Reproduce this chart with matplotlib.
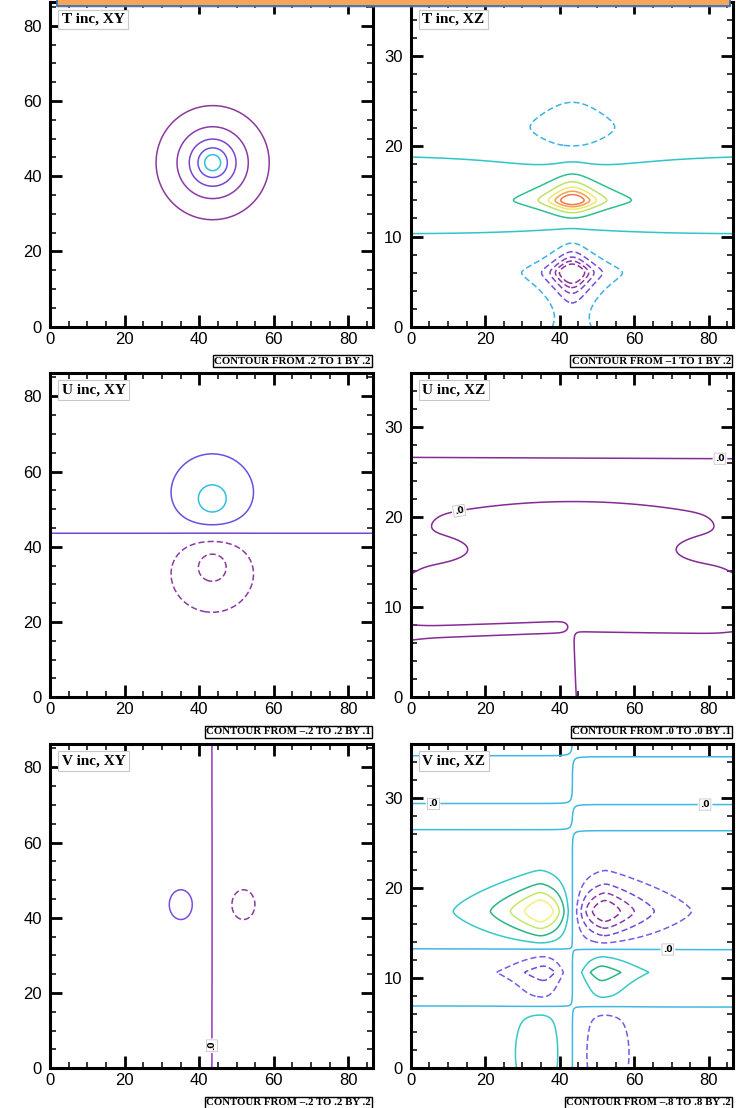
import numpy as np
import matplotlib
matplotlib.use("Agg")
import matplotlib.pyplot as plt
from matplotlib.patches import Rectangle
from matplotlib.ticker import MultipleLocator

# ====================== data ======================
x_max = 86.5          # km, horizontal extent of every panel
xy_y_max = 86.3       # km, y extent of XY panels
xz_z_max = 36.0       # z extent of XZ panels

titles = ["T inc, XY", "T inc, XZ", "U inc, XY", "U inc, XZ", "V inc, XY", "V inc, XZ"]
notes = ["CONTOUR FROM .2 TO 1 BY .2", "CONTOUR FROM \u20131 TO 1 BY .2",
         "CONTOUR FROM \u2013.2 TO .2 BY .1", "CONTOUR FROM .0 TO .0 BY .1",
         "CONTOUR FROM \u2013.2 TO .2 BY .2", "CONTOUR FROM \u2013.8 TO .8 BY .2"]

# --- T increment, XY ---
txy_levels = [0.2, 0.4, 0.6, 0.8, 1.0]
txy_colors = ["#8a3a9a", "#8b3aa8", "#7a44cc", "#6a4fe0", "#2fbfe0"]
txy_center = [43.6, 43.6]
txy_peak = 1.3
txy_efold = 8.1

# --- T increment, XZ ---
txz_levels = [-1.0, -0.8, -0.6, -0.4, -0.2, 0.0, 0.2, 0.4, 0.6, 0.8, 1.0]
txz_colors = ["#8a2f92", "#8b38a6", "#8044c4", "#7050e2", "#3cb2e6", "#30c4cc",
              "#2fc090", "#bde466", "#f2e86a", "#f4a04e", "#f07a48"]
txz_layer = [0.12, 14.7, 5.3, -0.06]             # amp, centre z, width, offset
txz_layer_pinch = [0.06, 43.4, 22.0]             # relative narrowing, centre x, x width
txz_blob_amp = [1.25, -1.45, -0.345]
txz_blob_x0 = [43.4, 43.3, 43.4]
txz_blob_z0 = [14.0, 6.0, 22.0]
txz_blob_sx = [5.8, 4.5, 10.3]
txz_blob_szu = [1.5, 1.35, 2.4]
txz_blob_szd = [0.9, 1.75, 2.4]
txz_blob_round = [0.35, 0.45, 0.9]
txz_tail = [-0.17, 43.2, 8.3, 3.0]               # amp, x0, x width, z decay

# --- U increment, XY ---
uxy_levels = [-0.2, -0.1, 0.0, 0.1, 0.2]
uxy_colors = ["#8a3a9a", "#8c3aa6", "#7446d2", "#6c4fe2", "#30c0e0"]
uxy_layer = [0.05, 43.6, 1.5]                    # amp, y of zero line, width
uxy_blob_amp = [0.29, -0.29]
uxy_blob_x0 = [43.5, 43.5]
uxy_blob_y0 = [52.3, 35.0]
uxy_blob_efold = [7.5, 7.5]

# --- U increment, XZ (zero contour only) ---
uxz_levels = [0.0]
uxz_colors = ["#862a96"]
uxz_top = [26.6, 26.45]                          # zero line height at x=0 and x=x_max
uxz_cap = [14.2, 7.5, 0.05, 43.5, 42.0]          # base z, rise, slope, centre x, edge width
uxz_notch = [0.65, 16.1, 15.0, 1.6]              # amp, z, x width, z width
uxz_lowright = [1.4, 43.7, 0.6, 7.3, 7.0, 0.3]   # amp, x step, width, z at x step, z at edge, width
uxz_tongue = [1.5, 42.0, 0.8, 7.15, 7.78, 0.73]  # amp, tip x, width, z at 0, z at tip, half width
uxz_label_pos = [(83.0, 26.5), (13.0, 20.7)]

# --- V increment, XY ---
vxy_levels = [-0.2, 0.0, 0.2]
vxy_colors = ["#8c3aa0", "#9636c2", "#7c4ede"]
vxy_zero_x = 43.4
vxy_blob_amp = [0.4, -0.4]
vxy_blob_x0 = [35.3, 51.6]
vxy_blob_y0 = [43.5, 43.5]
vxy_blob_ax = [4.6, 4.6]
vxy_blob_ay = [5.8, 5.8]
vxy_label_pos = [(43.4, 6.0)]

# --- V increment, XZ ---
vxz_levels = [-0.8, -0.6, -0.4, -0.2, 0.0, 0.2, 0.4, 0.6, 0.8]
vxz_colors = ["#8a3092", "#8a3aac", "#7048d8", "#7b58e8", "#40b8e2",
              "#38c8c8", "#2ab488", "#c4e866", "#f4f07e"]
vxz_zero_x = 43.4
vxz_zero_z = [6.85, 13.2, 26.4, 29.3, 34.6]
vxz_bg = 0.05
vxz_cell_amp = [1.02, 1.0, 0.53, 0.53]
vxz_cell_x0 = [35.0, 52.0, 36.0, 51.0]
vxz_cell_z0 = [17.4, 17.4, 10.65, 10.65]
vxz_cell_sxo = [11.8, 11.8, 9.2, 9.2]
vxz_cell_sxi = [20.0, 20.0, 8.0, 8.0]
vxz_cell_szu = [3.0, 3.0, 1.5, 1.5]
vxz_cell_szd = [2.7, 2.7, 1.8, 1.8]
vxz_cell_pow = [1.5, 1.5, 1.0, 1.0]
vxz_cell_side = [-1, 1, -1, 1]
vxz_base_amp = [0.33, 0.33]
vxz_base_x0 = [34.8, 51.9]
vxz_base_z0 = [1.5, 1.5]
vxz_base_sx = [7.5, 7.5]
vxz_base_sz = [6.0, 6.0]
vxz_base_side = [-1, 1]
vxz_label_pos = [(6.0, 29.3), (79.0, 29.3), (69.0, 13.2)]

# ====================== grids & fields ======================
xg = np.linspace(0, x_max, 347)
yg = np.linspace(0, xy_y_max, 346)
zg = np.linspace(0, xz_z_max, 289)
XY_X, XY_Y = np.meshgrid(xg, yg)
XZ_X, XZ_Z = np.meshgrid(xg, zg)


def sig(t):
    return 0.5 * (1.0 + np.tanh(t / 2.0))


def lens(X, Z, amp, x0, z0, sx, szu, szd, rnd):
    dz = Z - z0
    sz = np.where(dz > 0, szu, szd)
    adz = np.sqrt(dz ** 2 + rnd ** 2) - rnd
    return amp * np.exp(-adz / sz) / (1.0 + ((X - x0) / sx) ** 2)


# T XY
r = np.hypot(XY_X - txy_center[0], XY_Y - txy_center[1])
F_txy = txy_peak * np.exp(-r / txy_efold)

# T XZ
lw_x = txz_layer[2] * (1.0 - txz_layer_pinch[0] * np.exp(-((XZ_X - txz_layer_pinch[1]) / txz_layer_pinch[2]) ** 2))
F_txz = txz_layer[0] * np.exp(-((XZ_Z - txz_layer[1]) / lw_x) ** 2) + txz_layer[3]
for a, x0, z0, sx, su, sd, rd in zip(txz_blob_amp, txz_blob_x0, txz_blob_z0,
                                     txz_blob_sx, txz_blob_szu, txz_blob_szd, txz_blob_round):
    F_txz = F_txz + lens(XZ_X, XZ_Z, a, x0, z0, sx, su, sd, rd)
F_txz = F_txz + txz_tail[0] * np.exp(-XZ_Z / txz_tail[3]) * np.exp(-((XZ_X - txz_tail[1]) / txz_tail[2]) ** 2)

# U XY
F_uxy = uxy_layer[0] * np.tanh((XY_Y - uxy_layer[1]) / uxy_layer[2])
for a, x0, y0, s in zip(uxy_blob_amp, uxy_blob_x0, uxy_blob_y0, uxy_blob_efold):
    F_uxy = F_uxy + a * np.exp(-np.hypot(XY_X - x0, XY_Y - y0) / s)

# U XZ
dxc = XZ_X - uxz_cap[3]
P = (1.0 - 0.13 * (dxc / 30.0) ** 2) * np.exp(-(np.abs(dxc) / uxz_cap[4]) ** 20)
q = uxz_cap[2] * (uxz_cap[0] - XZ_Z) + uxz_cap[2] * uxz_cap[1] * P
for xe in (0.0, x_max):
    q = q - uxz_notch[0] * np.exp(-((XZ_X - xe) / uxz_notch[2]) ** 2 - ((XZ_Z - uxz_notch[1]) / uxz_notch[3]) ** 2)
zr = uxz_lowright[3] + (uxz_lowright[4] - uxz_lowright[3]) * (XZ_X - uxz_lowright[1]) / (x_max - uxz_lowright[1])
q = q - uxz_lowright[0] * sig((XZ_X - uxz_lowright[1]) / uxz_lowright[2]) * sig((zr - XZ_Z) / uxz_lowright[5])
zt = uxz_tongue[3] + (uxz_tongue[4] - uxz_tongue[3]) * XZ_X / uxz_tongue[1]
q = q - uxz_tongue[0] * sig((uxz_tongue[1] - XZ_X) / uxz_tongue[2]) * np.exp(-((XZ_Z - zt) / uxz_tongue[5]) ** 2)
ztop = uxz_top[0] + (uxz_top[1] - uxz_top[0]) * XZ_X / x_max
F_uxz = (ztop - XZ_Z) * q

# V XY
F_vxy = 0.001 * (vxy_zero_x - XY_X)
for a, x0, y0, ax_, ay_ in zip(vxy_blob_amp, vxy_blob_x0, vxy_blob_y0, vxy_blob_ax, vxy_blob_ay):
    F_vxy = F_vxy + a * np.exp(-np.sqrt(((XY_X - x0) / ax_) ** 2 + ((XY_Y - y0) / ay_) ** 2))

# V XZ
S = np.tanh((vxz_zero_x - XZ_X) / 4.3)
zs1 = np.ones_like(zg)
for zi in vxz_zero_z:
    zs1 = zs1 * np.tanh((zg - zi) / 1.0)
dzs1 = np.gradient(zs1, zg)
Zs = np.tile(zs1[:, None], (1, xg.size))
dZs = np.tile(dzs1[:, None], (1, xg.size))
M = np.full_like(XZ_X, vxz_bg)
for a, x0, z0, so, si, su, sd, pw, side in zip(vxz_cell_amp, vxz_cell_x0, vxz_cell_z0,
                                               vxz_cell_sxo, vxz_cell_sxi, vxz_cell_szu,
                                               vxz_cell_szd, vxz_cell_pow, vxz_cell_side):
    dx = XZ_X - x0
    sx = np.where(dx * side > 0, so, si)
    rx = (np.sqrt(dx ** 2 + 1.0) - 1.0) / sx
    dz = XZ_Z - z0
    sz = np.where(dz > 0, su, sd)
    own = sig(side * (XZ_X - vxz_zero_x) / 0.5)
    M = M + own * a * np.exp(-rx - (np.abs(dz) / sz) ** pw)
for a, x0, z0, sx, sz, side in zip(vxz_base_amp, vxz_base_x0, vxz_base_z0, vxz_base_sx,
                                   vxz_base_sz, vxz_base_side):
    own = sig(side * (XZ_X - vxz_zero_x) / 0.5)
    M = M + own * a * np.exp(-((XZ_X - x0) / sx) ** 2 - ((XZ_Z - z0) / sz) ** 2)
F_vxz = -S * Zs * M + 0.003 * dZs

# ====================== figure ======================
W, H = 736, 1108
fig = plt.figure(figsize=(W / 100, H / 100), dpi=100)

col_x = [50 / W, 410.7 / W]
col_w = [322.7 / W, 322.3 / W]
row_b = [1 - 326.7 / H, 1 - 697.3 / H, 1 - 1068.3 / H]
row_h = 324.7 / H

DASH = (0, (4.0, 2.0))


def styles(levels):
    return [DASH if lv < 0 else "solid" for lv in levels]


def setup(ax, kind):
    ax.set_xlim(0, x_max)
    ax.xaxis.set_major_locator(MultipleLocator(20))
    ax.xaxis.set_minor_locator(MultipleLocator(5))
    if kind == "xy":
        ax.set_ylim(0, xy_y_max)
        ax.yaxis.set_major_locator(MultipleLocator(20))
        ax.yaxis.set_minor_locator(MultipleLocator(5))
    else:
        ax.set_ylim(0, xz_z_max)
        ax.yaxis.set_major_locator(MultipleLocator(10))
        ax.yaxis.set_minor_locator(MultipleLocator(2))
    ax.tick_params(which="both", direction="in", top=True, right=True, colors="black")
    ax.tick_params(which="major", length=8.5, width=2.0, labelsize=12)
    ax.tick_params(which="minor", length=4.3, width=1.1)
    ax.tick_params(axis="x", which="major", pad=3.5)
    ax.tick_params(axis="y", which="major", pad=6.0)
    for lab in ax.get_xticklabels() + ax.get_yticklabels():
        lab.set_fontfamily("Liberation Sans")
    for sp in ax.spines.values():
        sp.set_linewidth(2.2)


def decorate(ax, title, note):
    ax.text(11.5 / 322.7, 1 - 11.0 / 324.7, title, transform=ax.transAxes, ha="left", va="top",
            fontsize=11, fontweight="bold", fontfamily="Liberation Serif", zorder=6,
            bbox=dict(boxstyle="square,pad=0.22", fc="white", ec="#c8c8c8", lw=0.8))
    ax.text(1 - 2.0 / 322.7, -30.0 / 324.7, note, transform=ax.transAxes, ha="right", va="top",
            fontsize=7.8, fontweight="bold", fontfamily="Liberation Serif", clip_on=False,
            bbox=dict(boxstyle="square,pad=0.12", fc="white", ec="black", lw=1.0))


def labels(ax, cs, positions):
    txts = ax.clabel(cs, fmt=lambda v: ".0", manual=positions, inline=True,
                     inline_spacing=3, fontsize=6.5, colors="black")
    for t in txts:
        t.set_fontweight("bold")
        t.set_bbox(dict(boxstyle="square,pad=0.12", fc="white", ec="#bbbbbb", lw=0.5))


panels = [
    (0, 0, "xy", XY_X, XY_Y, F_txy, txy_levels, txy_colors, None),
    (0, 1, "xz", XZ_X, XZ_Z, F_txz, txz_levels, txz_colors, None),
    (1, 0, "xy", XY_X, XY_Y, F_uxy, uxy_levels, uxy_colors, None),
    (1, 1, "xz", XZ_X, XZ_Z, F_uxz, uxz_levels, uxz_colors, uxz_label_pos),
    (2, 0, "xy", XY_X, XY_Y, F_vxy, vxy_levels, vxy_colors, vxy_label_pos),
    (2, 1, "xz", XZ_X, XZ_Z, F_vxz, vxz_levels, vxz_colors, vxz_label_pos),
]

for i, (rw, cl, kind, X, Y, F, lev, cols, lpos) in enumerate(panels):
    ax = fig.add_axes([col_x[cl], row_b[rw], col_w[cl], row_h])
    if lpos is None:
        ax.contour(X, Y, F, levels=lev, colors=cols, linewidths=1.1, linestyles=styles(lev))
    else:
        other = [lv for lv in lev if lv != 0.0]
        ocols = [c for lv, c in zip(lev, cols) if lv != 0.0]
        zcol = [c for lv, c in zip(lev, cols) if lv == 0.0]
        if other:
            ax.contour(X, Y, F, levels=other, colors=ocols, linewidths=1.1, linestyles=styles(other))
        cs0 = ax.contour(X, Y, F, levels=[0.0], colors=zcol, linewidths=1.1, linestyles="solid")
        labels(ax, cs0, lpos)
    setup(ax, kind)
    decorate(ax, titles[i], notes[i])

# overlay bar at the top edge
fig.add_artist(Rectangle((57 / W, 1 - 8 / H), 673 / W, 3 / H, transform=fig.transFigure,
                         fc="#9a9a9a", ec="none", alpha=0.35, zorder=20))
fig.add_artist(Rectangle((57 / W, 1 - 5.5 / H), 673 / W, 8 / H, transform=fig.transFigure,
                         fc="#f6a658", ec="#3a70b8", lw=1.3, zorder=21))

fig.savefig("out.png", dpi=100)
